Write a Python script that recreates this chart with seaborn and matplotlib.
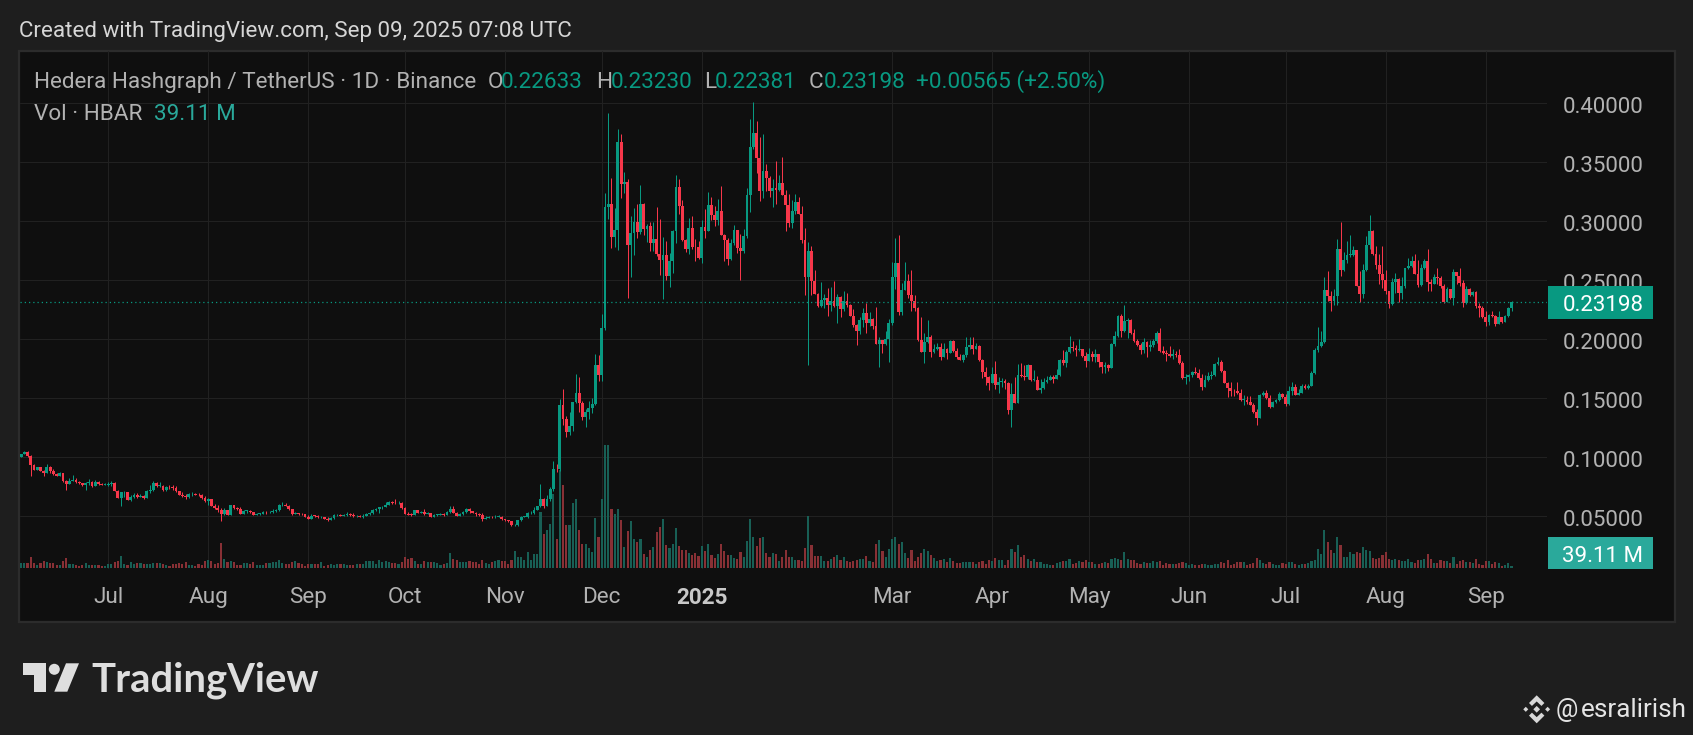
import numpy as np
import pandas as pd
import matplotlib
matplotlib.use("Agg")
import matplotlib.pyplot as plt
from matplotlib.patches import Polygon, Circle, Rectangle
from matplotlib.transforms import ScaledTranslation
import seaborn as sns

# ---------- values (prices in units of 0.0001 USDT) ----------
first_open = 1005
closes = [
 1025,1042,1011,935,892,915,887,870,915,884,856,844,864,799,774,802,805,788,782,762,782,791,754,791,774,768,768,
 774,782,717,655,703,706,641,661,683,663,675,655,714,723,785,757,757,723,748,745,740,711,683,672,663,686,686,680,678,658,627,
 644,590,570,550,519,550,514,593,570,565,522,545,545,536,514,519,522,539,533,536,548,553,593,598,590,559,522,525,519,517,497,
 480,505,502,491,491,480,471,485,508,508,505,508,517,514,500,502,497,505,519,525,556,559,576,582,598,621,613,610,615,570,
 522,514,511,550,531,536,519,525,497,511,514,519,514,539,562,531,505,517,536,559,542,531,517,511,477,488,497,491,497,497,474,
 466,457,423,423,468,497,497,525,528,553,587,646,587,646,731,901,898,1443,1324,1217,1265,1469,1542,1463,1344,1387,1418,1452,1782,1698,
 2096,3121,3147,2867,2924,3669,3316,3330,2799,2901,2991,2907,3147,2935,2960,2816,2850,2723,2672,2715,2537,2661,2918,3291,3133,2842,2765,2943,2782,2780,2689,
 2952,2918,3138,3054,3011,3088,2884,2842,2681,2816,2926,2774,2748,2876,3223,3630,3749,3537,3257,3427,3367,3257,3283,3266,3325,3223,3138,2986,3088,3164,3062,
 2842,2528,2748,2494,2384,2282,2333,2350,2291,2325,2282,2359,2257,2325,2291,2198,2121,2071,2164,2223,2138,2172,2113,1960,1994,1960,2003,2138,
 2526,2647,2235,2415,2495,2376,2325,2266,1994,1896,1978,2020,1893,1918,1935,1850,1918,1884,1986,1901,1850,1825,1867,1935,1952,1918,1944,1825,1723,1681,1630,
 1706,1613,1639,1647,1630,1401,1537,1461,1698,1689,1681,1783,1656,1656,1571,1588,1639,1656,1681,1664,1698,1825,1800,1893,1935,1924,1910,1918,1859,1817,
 1876,1850,1876,1805,1766,1783,1757,1961,2028,2198,2071,2156,2164,2054,1986,1952,1910,1978,1935,1949,1986,2054,1901,1884,1876,1859,1876,1867,1800,1672,1681,
 1698,1723,1715,1672,1596,1656,1689,1698,1791,1808,1732,1630,1588,1562,1559,1543,1486,1486,1469,1444,1384,1333,1528,1545,1503,1427,1469,1486,1537,1511,
 1451,1564,1592,1530,1544,1601,1586,1606,1711,1906,1940,1973,2414,2369,2324,2363,2765,2589,2671,2714,2714,2753,2454,2383,2584,2798,2917,2719,2629,2553,2505,
 2411,2298,2488,2510,2392,2448,2601,2618,2663,2555,2459,2606,2663,2488,2468,2524,2521,2448,2318,2425,2346,2567,2533,2476,2307,2425,2375,2403,2279,2262,2185,
 2149,2205,2200,2129,2188,2149,2194,2263,2320,
]
highs = [
 1025,1051,1051,1020,940,915,918,892,943,926,898,864,875,870,808,825,850,822,802,785,791,813,796,808,796,785,779,
 791,796,791,723,709,714,709,680,695,700,689,680,723,762,799,793,791,765,757,762,762,757,717,709,689,695,703,700,695,686,672,
 652,644,604,598,567,567,553,593,598,576,576,553,553,550,539,531,531,548,545,548,562,565,601,618,610,598,565,536,531,525,522,
 511,517,514,508,502,497,491,497,517,519,517,519,533,525,525,514,508,517,531,536,565,570,582,590,624,630,627,644,632,621,
 582,539,531,553,553,548,559,536,531,519,522,531,525,548,587,587,539,531,545,567,570,548,536,525,525,505,505,502,511,508,502,
 474,466,460,437,471,502,505,536,542,576,587,771,658,680,751,969,943,1494,1579,1350,1384,1469,1705,1680,1477,1406,1474,1500,1876,1867,
 2215,3240,3918,3367,3113,3782,3737,3415,3359,3045,3110,3147,3305,3155,2975,2991,2991,3121,3020,2864,2830,2732,2926,3393,3359,3181,2850,3028,3045,2850,2830,
 3011,3105,3249,3206,3130,3189,3299,2893,2859,2850,2969,2926,2893,2935,3283,3867,4008,3850,3715,3740,3486,3384,3359,3511,3393,3545,3266,3232,3181,3232,3206,
 3130,2943,2825,2791,2587,2393,2486,2384,2435,2443,2494,2384,2370,2410,2393,2299,2257,2130,2189,2265,2308,2232,2181,2274,2020,1994,2071,2172,
 2653,2859,2884,2478,2653,2554,2588,2376,2274,2187,2054,2164,2037,1961,1969,1969,1969,1927,1994,1994,1927,1876,1876,2020,2020,2020,1969,1952,1833,1766,1689,
 1766,1817,1681,1672,1664,1639,1630,1681,1791,1800,1783,1791,1783,1740,1689,1664,1670,1689,1698,1698,1749,1833,1910,1910,2028,1986,1952,2003,1918,1893,
 1927,1901,1918,1867,1791,1805,1794,1969,2071,2206,2215,2291,2181,2172,2088,2003,1969,2011,1986,1994,2003,2071,2096,1944,1910,1944,1918,1901,1918,1817,1706,
 1706,1732,1766,1749,1706,1698,1723,1735,1800,1850,1825,1740,1639,1639,1579,1639,1579,1530,1520,1520,1461,1410,1537,1562,1568,1528,1480,1494,1551,1545,
 1536,1606,1640,1620,1578,1620,1618,1623,1733,1923,2101,2072,2527,2575,2411,2425,2849,2991,2736,2835,2883,2793,2753,2581,2637,2877,3053,2923,2793,2722,2787,
 2589,2411,2516,2561,2516,2524,2606,2685,2702,2722,2674,2637,2680,2764,2510,2552,2601,2533,2468,2439,2425,2595,2572,2606,2504,2448,2437,2411,2411,2307,2284,
 2242,2214,2239,2205,2242,2191,2205,2270,2323,
]
lows = [
 1005,1025,1005,844,892,889,884,844,864,870,850,844,844,793,723,774,796,782,776,757,723,765,751,757,768,762,762,
 757,760,714,655,587,666,638,630,652,658,661,649,655,700,717,751,745,717,717,728,723,706,678,666,644,658,672,678,672,649,621,
 598,587,565,539,460,514,511,508,565,556,519,519,525,528,511,508,511,519,522,525,531,536,545,587,584,553,511,517,514,511,494,
 474,477,491,486,483,474,460,469,480,500,500,503,505,503,497,497,491,488,503,514,519,548,525,559,576,593,604,604,604,565,
 517,508,503,508,525,525,514,517,491,494,503,508,505,508,525,525,503,503,511,525,531,525,503,503,460,480,483,483,488,491,466,
 457,452,418,418,418,460,491,488,516,519,550,582,570,587,629,714,878,887,1274,1175,1189,1226,1460,1384,1316,1260,1322,1372,1440,1647,
 1647,2079,3020,2774,2782,2757,3201,3240,2350,2528,2715,2859,2890,2884,2828,2748,2748,2706,2545,2342,2503,2443,2562,2816,3062,2833,2740,2723,2765,2664,2681,
 2647,2859,2918,3011,2960,2969,2884,2664,2630,2672,2799,2732,2503,2732,2859,3079,3613,3410,3172,3198,3257,3206,3121,3147,3257,3223,2918,2952,2943,3062,3062,
 2816,2376,1782,2376,2384,2274,2274,2265,2198,2240,2274,2138,2189,2240,2274,2198,2105,1952,2045,2105,2054,2113,2087,1960,1766,1884,1952,1808,
 2122,2427,2209,2209,2415,2353,2243,2243,1989,1896,1800,1969,1850,1884,1910,1825,1850,1833,1884,1893,1833,1822,1808,1850,1918,1876,1918,1817,1672,1613,1571,
 1630,1579,1545,1596,1579,1367,1257,1461,1461,1681,1656,1664,1647,1647,1571,1545,1579,1630,1656,1630,1664,1689,1783,1766,1884,1901,1859,1901,1850,1766,
 1817,1817,1811,1766,1715,1715,1732,1757,1944,2020,2020,2062,2011,2045,1975,1946,1876,1884,1850,1901,1935,1969,1893,1876,1817,1850,1833,1850,1791,1664,1622,
 1647,1681,1706,1664,1571,1596,1647,1664,1689,1783,1723,1630,1511,1520,1523,1534,1478,1444,1452,1444,1376,1274,1333,1520,1494,1418,1427,1461,1478,1503,
 1437,1442,1530,1527,1527,1544,1578,1578,1601,1705,1894,1931,1968,2327,2242,2290,2290,2538,2581,2646,2694,2708,2448,2318,2346,2581,2765,2714,2595,2468,2431,
 2383,2262,2290,2392,2318,2341,2437,2595,2609,2550,2440,2448,2595,2411,2411,2468,2468,2437,2307,2312,2341,2290,2468,2454,2270,2298,2369,2369,2267,2185,2177,
 2115,2120,2185,2115,2129,2137,2143,2188,2238,
]
volumes_m = [
 100,100,100,220,100,60,100,140,120,100,100,60,60,140,200,80,80,60,40,60,100,60,60,60,60,40,40,
 80,80,120,140,240,80,60,120,80,100,100,80,80,80,100,100,100,80,60,40,80,80,100,80,120,60,60,40,80,60,140,
 160,140,80,100,500,180,120,140,120,60,60,100,100,80,120,60,60,60,100,100,120,120,160,100,80,80,120,140,100,80,40,
 80,80,80,80,120,40,60,80,60,80,80,80,60,60,60,80,80,80,140,140,140,80,160,120,140,120,100,100,80,120,
 220,180,200,140,80,80,140,120,120,120,100,60,80,100,300,180,160,120,120,120,140,120,120,80,160,100,80,120,140,160,140,
 140,80,160,340,220,220,160,320,160,280,280,1120,680,760,880,1480,580,1960,1660,860,860,1300,1380,760,480,480,400,320,1000,620,
 1380,2460,2460,1180,1080,1180,960,420,740,940,580,520,580,280,220,360,420,720,820,980,460,400,480,800,440,360,360,300,260,300,240,
 440,340,480,260,200,280,480,340,260,260,200,180,320,220,540,980,620,440,600,620,300,220,300,280,140,220,360,220,220,160,160,
 140,400,1040,460,240,240,240,140,140,180,220,260,160,220,140,120,140,160,180,180,240,140,120,480,560,340,220,380,
 580,620,480,520,300,200,360,140,220,300,380,340,260,200,140,160,180,120,200,140,100,100,120,120,120,120,80,120,140,80,160,
 140,200,160,160,60,160,380,320,460,220,260,180,140,180,120,120,80,80,60,60,100,120,140,140,180,80,100,140,120,160,
 120,120,80,80,100,120,100,180,200,180,160,320,180,160,160,100,80,120,100,100,140,120,140,60,100,80,80,80,100,120,100,
 60,80,60,60,80,80,60,60,80,80,120,100,160,60,80,120,120,120,60,80,100,200,160,100,80,120,80,60,60,100,
 80,120,120,80,60,80,80,100,140,160,380,280,760,520,360,300,620,460,220,220,320,280,320,300,420,360,340,200,180,200,260,
 320,180,160,180,160,140,140,180,120,100,160,160,180,280,180,100,100,160,140,140,100,220,80,140,160,120,120,100,180,80,60,
 140,140,80,120,100,40,60,100,39.11,
]
month_names = ["Jul", "Aug", "Sep", "Oct", "Nov", "Dec", "2025", "Mar", "Apr", "May", "Jun", "Jul", "Aug", "Sep"]
month_dates = ["2024-07-01", "2024-08-01", "2024-09-01", "2024-10-01", "2024-11-01", "2024-12-01", "2025-01-01",
               "2025-03-01", "2025-04-01", "2025-05-01", "2025-06-01", "2025-07-01", "2025-08-01", "2025-09-01"]
price_ticks = [0.05, 0.10, 0.15, 0.20, 0.25, 0.30, 0.35, 0.40]
last_price = 0.23198
start_date = "2024-06-04"

assert len(closes) == len(highs) == len(lows) == len(volumes_m), (len(closes), len(highs), len(lows), len(volumes_m))

# ---------- table ----------
df = pd.DataFrame({"close": closes, "high": highs, "low": lows}) / 1e4
df["volume"] = volumes_m
df["open"] = df["close"].shift(1).fillna(first_open / 1e4)
df["high"] = df[["high", "open", "close"]].max(axis=1)
df["low"] = df[["low", "open", "close"]].min(axis=1)
df["date"] = pd.date_range(start_date, periods=len(df))
df["day"] = np.arange(len(df))
df["direction"] = np.where(df["close"] >= df["open"], "up", "down")

# ---------- style ----------
BG = "#1e1e1e"; PANE = "#0f0f0f"; BORDER = "#2c2c2c"; GRID = "#212121"; LABEL = "#b2b2b2"
UP = "#089981"; DOWN = "#f7374a"; VOL_UP = "#185f55"; VOL_DOWN = "#883035"; VOL_BADGE = "#2aa99b"
sns.set_theme(style="dark", rc={"figure.facecolor": BG, "savefig.facecolor": BG})
plt.rcParams["font.family"] = ["Roboto", "DejaVu Sans"]

W, H = 1693, 735
fig = plt.figure(figsize=(W / 100, H / 100), dpi=100)

def frame(x0, y_top, x1, y_bottom):
    return [x0 / W, 1 - y_bottom / H, (x1 - x0) / W, (y_bottom - y_top) / H]

# pane behind everything
pane = fig.add_axes([0, 0, 1, 1], zorder=0)
pane.set_xlim(0, W); pane.set_ylim(H, 0); pane.axis("off")
pane.add_patch(Rectangle((19, 51), 1656, 571, facecolor=PANE, edgecolor=BORDER, linewidth=1.6))

plot_box = frame(20, 51, 1547, 569)
px_per_day = 3.226
day_lo = 27 - (108.2 - 20) / px_per_day
day_hi = 27 + (1547 - 108.2) / px_per_day
px_per_price = 1180.0
price_lo = (575.3 - 569) / px_per_price
price_hi = (575.3 - 51) / px_per_price

# grid and axis labels
ax = fig.add_axes(plot_box, zorder=1)
ax.set_facecolor("none")
ax.set_xlim(day_lo, day_hi); ax.set_ylim(price_lo, price_hi)
tick_days = [(pd.Timestamp(d) - pd.Timestamp(start_date)).days for d in month_dates]
ax.set_xticks(tick_days); ax.set_xticklabels(month_names)
ax.set_yticks(price_ticks); ax.set_yticklabels([f"{p:.5f}" for p in price_ticks])
ax.yaxis.tick_right()
ax.grid(True, color=GRID, linewidth=0.8)
ax.tick_params(axis="x", length=0, pad=13, labelsize=16.2, labelcolor=LABEL)
ax.tick_params(axis="y", length=0, pad=11.5, labelsize=16, labelcolor=LABEL)
for spine in ax.spines.values():
    spine.set_visible(False)
for label in ax.get_xticklabels():
    if label.get_text() == "2025":
        label.set_fontweight("bold"); label.set_color("#c8c8c8")
nudge = ScaledTranslation(0, -2 / 100, fig.dpi_scale_trans)
for tick in ax.yaxis.get_major_ticks():
    tick.label2.set_verticalalignment("center_baseline")
    tick.label2.set_transform(tick.label2.get_transform() + nudge)

# volume
vol_px = 20.0
ax_vol = fig.add_axes(plot_box, zorder=2)
ax_vol.set_facecolor("none")
sns.barplot(data=df, x="day", y="volume", hue="direction", native_scale=True, dodge=False,
            palette={"up": VOL_UP, "down": VOL_DOWN}, saturation=1, width=0.66, linewidth=0,
            legend=False, errorbar=None, antialiased=False, ax=ax_vol)
ax_vol.set_xlim(day_lo, day_hi)
ax_vol.set_ylim(-1.3 * vol_px, (567.7 - 51) * vol_px)
ax_vol.axis("off")

# candles
ax_c = fig.add_axes(plot_box, zorder=3)
ax_c.set_facecolor("none")
ax_c.set_xlim(day_lo, day_hi); ax_c.set_ylim(price_lo, price_hi)
ax_c.axis("off")
colors = np.where(df["direction"] == "up", UP, DOWN)
ax_c.vlines(df["day"], df["low"], df["high"], colors=colors, linewidth=0.72)
ax_c.bar(df["day"], (df["close"] - df["open"]).abs().clip(lower=0.0006),
         bottom=df[["open", "close"]].min(axis=1), width=0.88, color=colors, linewidth=0, antialiased=False)
ax_c.axhline(last_price, color=UP, linewidth=0.9, linestyle=(0, (1, 2.4)))

# overlay: badges, texts, logos (pixel coordinates)
ov = fig.add_axes([0, 0, 1, 1], zorder=4)
ov.set_xlim(0, W); ov.set_ylim(H, 0); ov.axis("off"); ov.patch.set_alpha(0)
ov.add_patch(Rectangle((1548, 286), 105, 33, facecolor=UP, edgecolor="none"))
ov.text(1603, 303, f"{last_price:.5f}", color="white", fontsize=16, ha="center", va="center_baseline")
ov.add_patch(Rectangle((1548, 537), 105, 32, facecolor=VOL_BADGE, edgecolor="none"))
ov.text(1603, 554, "39.11 M", color="white", fontsize=16, ha="center", va="center_baseline")

ov.text(19, 31, "Created with TradingView.com, Sep 09, 2025 07:08 UTC", color="#d6d6d6", fontsize=16.1, va="center")
TXT = dict(fontsize=16.2, va="center")
ov.text(34, 82, "Hedera Hashgraph / TetherUS · 1D · Binance", color=LABEL, **TXT)
for xl, letter, xv, value in [(488, "O", 501, "0.22633"), (596, "H", 611, "0.23230"),
                              (704, "L", 715, "0.22381"), (809, "C", 824, "0.23198")]:
    ov.text(xl, 82, letter, color=LABEL, **TXT)
    ov.text(xv, 82, value, color=UP, **TXT)
ov.text(916, 82, "+0.00565 (+2.50%)", color=UP, **TXT)
ov.text(34, 114, "Vol · HBAR", color=LABEL, **TXT)
ov.text(153.5, 114, "39.11 M", color=VOL_BADGE, **TXT)

# TradingView logo
LOGO = "#dedede"
ov.add_patch(Polygon([(22.7, 663.3), (45.7, 663.3), (45.7, 691.7), (34, 691.7), (34, 675), (22.7, 675)], facecolor=LOGO, edgecolor="none"))
ov.add_patch(Circle((54.3, 669.3), 5.5, facecolor=LOGO, edgecolor="none"))
ov.add_patch(Polygon([(66, 663.3), (79, 663.3), (67.3, 691.7), (54.3, 691.7)], facecolor=LOGO, edgecolor="none"))
ov.text(91, 691.7, "TradingView", color=LOGO, fontsize=28.8, fontfamily="Lato", fontweight="bold", va="baseline")

# Binance mark and handle
cx, cy, s = 1536.7, 709.3, 14.0
MARK = "#d8d8d8"
def mark(points):
    ov.add_patch(Polygon([(cx + s * a, cy - s * b) for a, b in points], facecolor=MARK, edgecolor="none"))
mark([(0, .24), (.24, 0), (0, -.24), (-.24, 0)])
mark([(.78, .18), (.96, 0), (.78, -.18), (.6, 0)])
mark([(-.78, .18), (-.6, 0), (-.78, -.18), (-.96, 0)])
mark([(0, 1), (.55, .45), (.34, .24), (0, .56), (-.34, .24), (-.55, .45)])
mark([(0, -1), (.55, -.45), (.34, -.24), (0, -.56), (-.34, -.24), (-.55, -.45)])
ov.text(1556, 710, "@", color="#e4e4e4", fontsize=18, va="center")
ov.text(1580.5, 710, "esralirish", color="#e4e4e4", fontsize=18.8, va="center")

fig.savefig("out.png", dpi=100)
